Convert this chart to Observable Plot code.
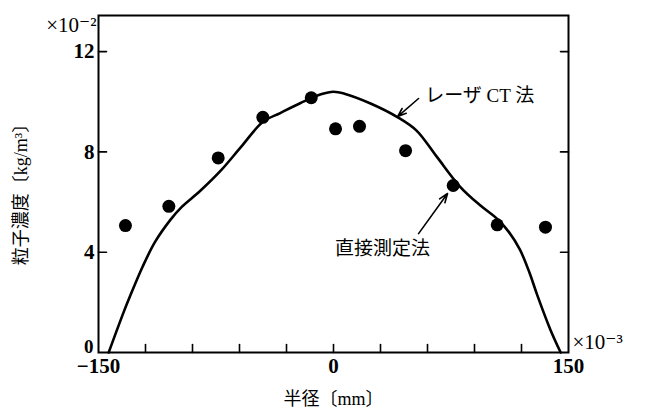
<!DOCTYPE html>
<html><head><meta charset="utf-8">
<script src="https://cdn.jsdelivr.net/npm/d3@7"></script>
<script src="https://cdn.jsdelivr.net/npm/@observablehq/plot@0.6"></script>
<style>
body{margin:0;background:#fff}
</style>
</head><body><div id="chart"></div>
<script>
// Data (radius in mm ×10^-3 scale, concentration ×10^-2 kg/m^3)
const laserRadius = [-143.5,-134,-129.5,-122,-114,-104,-97,-85,-72,-59,-45,-34,-21,-8,0,7,24,41,53,66,81,94,105,112,119,125,130,138.5,145];
const laserConc   = [0,1.6,2.3,3.4,4.4,5.3,5.8,6.45,7.25,8.2,9.2,9.55,9.95,10.3,10.4,10.32,9.92,9.38,8.85,7.8,6.6,5.85,5.3,4.8,4.1,3.2,2.3,0.9,0];
const directRadius = [-132.8,-105.1,-73.6,-45.1,-14.2,1.3,16.6,46,76.4,104.5,135.3];
const directConc   = [5.06,5.83,7.76,9.38,10.16,8.92,9.02,8.05,6.66,5.09,5.0];
const xTicks = [-120,-90,-60,-30,0,30,60,90,120];
const xTickLabels = [-150,0,150];
const yTickLabels = [4,8,12];
const yZeroLabel = [0];
const yTicks = [4,8,12];
const seriesNames = ["レーザ CT 法","直接測定法"];
const xTitle = "半径〔mm〕";
const yTitle = "粒子濃度〔kg/m³〕";
const yUnit = "×10⁻²";
const xUnit = "×10⁻³";

const laser = laserRadius.map((r,i)=>({r, c: laserConc[i]}));
const direct = directRadius.map((r,i)=>({r, c: directConc[i]}));
// annotation placements
const notes = [
  {x: 58.5, y: 10.25, text: seriesNames[0], anchor: "start"},
  {x: 31.3, y: 4.15, text: seriesNames[1], anchor: "middle"}
];
const arrows = [
  {x1: 54.3, y1: 10.13, x2: 40.9, y2: 9.41},
  {x1: 54.3, y1: 4.74, x2: 72.8, y2: 6.34}
];

const serif = "Liberation Serif, DejaVu Serif, serif, Noto Sans CJK JP";
const tickShape = {draw(ctx, l) { ctx.moveTo(0,0); ctx.lineTo(0,-l); }};
const fmt = d => d < 0 ? "\u2212" + Math.abs(d) : String(d);

const chart = Plot.plot({
  width: 647, height: 416,
  marginLeft: 98, marginRight: 79, marginTop: 15, marginBottom: 64,
  x: {domain: [-150,150]},
  y: {domain: [0,13.44]},
  style: {fontFamily: serif, background: "#fff", color: "#000", overflow: "visible"},
  marks: [
    Plot.frame({stroke: "#000", strokeWidth: 2}),
    Plot.vector(xTicks, {x: d=>d, y: 0, length: 8, rotate: 0, anchor: "start", shape: tickShape, stroke: "#000", strokeWidth: 1.6}),
    Plot.vector(yTicks, {x: -150, y: d=>d, length: 8, rotate: 90, anchor: "start", shape: tickShape, stroke: "#000", strokeWidth: 1.6}),
    Plot.vector(yTicks, {x: 150, y: d=>d, length: 8, rotate: -90, anchor: "start", shape: tickShape, stroke: "#000", strokeWidth: 1.6}),
    Plot.axisX({ticks: xTickLabels, tickSize: 0, tickPadding: 6, tickFormat: fmt, fontSize: 21, fontWeight: "bold", label: null}),
    Plot.axisY({ticks: yTickLabels, tickSize: 0, tickPadding: 4, tickFormat: fmt, fontSize: 21, fontWeight: "bold", label: null}),
    Plot.text(yZeroLabel, {x: -150, y: d=>d, text: d=>fmt(d), dx: -5, dy: -6, textAnchor: "end", fontSize: 19, fontWeight: "bold"}),
    Plot.line(laser, {x: "r", y: "c", curve: "catmull-rom", stroke: "#000", strokeWidth: 2.6}),
    Plot.dot(direct, {x: "r", y: "c", r: 6.5, fill: "#000", stroke: null}),
    Plot.arrow(arrows, {x1: "x1", y1: "y1", x2: "x2", y2: "y2", stroke: "#000", strokeWidth: 1.6, headLength: 9, headAngle: 40}),
    Plot.text(notes.filter(d=>d.anchor==="start"), {x: "x", y: "y", text: "text", textAnchor: "start", fontSize: 19}),
    Plot.text(notes.filter(d=>d.anchor==="middle"), {x: "x", y: "y", text: "text", textAnchor: "middle", fontSize: 19}),
    Plot.text([xTitle], {frameAnchor: "bottom", dy: 52, text: d=>d, textAnchor: "middle", fontSize: 18}),
    Plot.text([yTitle], {frameAnchor: "left", dx: -77, dy: 6, rotate: -90, text: d=>d, textAnchor: "middle", fontSize: 18}),
    Plot.text([yUnit], {frameAnchor: "top-left", dx: -2, dy: 2, text: d=>d, textAnchor: "end", fontSize: 21}),
    Plot.text([xUnit], {frameAnchor: "bottom-right", dx: 4, dy: -4, text: d=>d, textAnchor: "start", fontSize: 21})
  ]
});
document.getElementById("chart").append(chart);
</script></body></html>
